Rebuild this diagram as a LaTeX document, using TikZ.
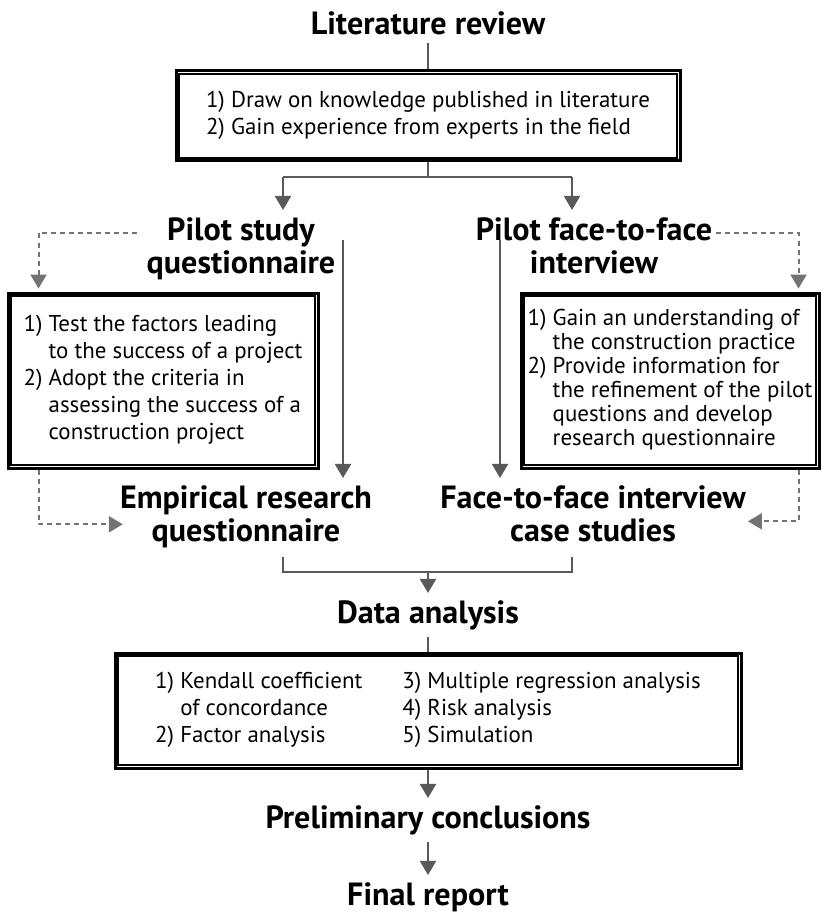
\documentclass[tikz,border=0pt]{standalone}
\usepackage{fontspec}
\setmainfont{PT Sans}
\usetikzlibrary{arrows.meta, positioning}

% font sizes fitted to the widths of the original lettering
\newlength\probewd
\settowidth\probewd{\normalfont\fontsize{20}{24}\selectfont 1) Draw on knowledge published in literature}
\pgfmathsetmacro\bodysize{20*444/\probewd}
\settowidth\probewd{\normalfont\bfseries\fontsize{20}{24}\selectfont Preliminary conclusions}
\pgfmathsetmacro\headsize{20*325/\probewd}

\tikzset{
  heading/.style={font=\bfseries\fontsize{\headsize}{33}\selectfont, align=center, inner sep=7pt},
  listbox/.style={draw, line width=3pt, inner sep=0pt, font=\fontsize{\bodysize}{27}\selectfont},
  flow/.style={draw=black!65, line width=2pt},
  arrow/.style={flow, -{Triangle[width=16pt,length=14pt]}},
  feedback/.style={draw=black!55, line width=2pt, dash pattern=on 5pt off 4pt,
    -{Triangle[width=16pt,length=14pt]}, shorten >=3pt},
}

\begin{document}
\begin{tikzpicture}[x=1pt, y=1pt]
  \useasboundingbox (0,0) rectangle (822,-917);

  % headings (base = last line)
  \node[heading, anchor=base] (lit) at (428,-35) {Literature review};
  \node[heading, anchor=base] (pilotq) at (241,-273) {Pilot study\\questionnaire};
  \node[heading, anchor=base] (pilotf) at (594,-273) {Pilot face-to-face\\interview};
  \node[heading, anchor=base] (empq) at (246,-541) {Empirical research\\questionnaire};
  \node[heading, anchor=base] (facecs) at (593,-541) {Face-to-face interview\\case studies};
  \node[heading, anchor=base] (data) at (428,-623) {Data analysis};
  \node[heading, anchor=base] (prelim) at (428,-828) {Preliminary conclusions};
  \node[heading, anchor=base] (final) at (428,-905) {Final report};

  % boxes
  \node[listbox, minimum width=504pt, minimum height=90pt] (review) at (428,-116)
    {\begin{tabular}{@{}l@{\ }l@{}}
      1) & Draw on knowledge published in literature\\
      2) & Gain experience from experts in the field
    \end{tabular}};
  \node[listbox, minimum width=310pt, minimum height=175pt] (pilotbox) at (163,-380.5)
    {\begin{tabular}{@{}l@{\ }l@{}}
      1) & Test the factors leading\\
         & to the success of a project\\
      2) & Adopt the criteria in\\
         & assessing the success of a\\
         & construction project
    \end{tabular}};
  \node[listbox, minimum width=298pt, minimum height=175pt,
        font=\fontsize{\bodysize}{24}\selectfont] (interbox) at (670,-380.5)
    {\begin{tabular}{@{}l@{\ }l@{}}
      1) & Gain an understanding of\\
         & the construction practice\\
      2) & Provide information for\\
         & the refinement of the pilot\\
         & questions and develop\\
         & research questionnaire
    \end{tabular}};
  \node[listbox, minimum width=626pt, minimum height=115pt] (methods) at (428,-710.5)
    {\begin{tabular}{@{}l@{\ }l@{\hspace{40pt}}l@{\ }l@{}}
      1) & Kendall coefficient & 3) & Multiple regression analysis\\
         & of concordance      & 4) & Risk analysis\\
      2) & Factor analysis     & 5) & Simulation
    \end{tabular}};

  % thin inner frame of each box
  \foreach \b in {review, pilotbox, interbox, methods}
    \draw[line width=1.4pt] ([shift={(4.5pt,-4.5pt)}]\b.north west)
      rectangle ([shift={(-4.5pt,4.5pt)}]\b.south east);

  % branch points
  \coordinate (split) at (428,-177);
  \coordinate (split-l) at (283,-177);
  \coordinate (split-r) at (572,-177);
  \coordinate (down-l) at (343,-240);
  \coordinate (down-r) at (500,-240);
  \coordinate (fb-lt) at (137,-233);
  \coordinate (fb-rt) at (716,-233);
  \coordinate (join-l) at (283,-557);
  \coordinate (join-r) at (572,-557);
  \coordinate (join) at (428,-572);

  % main flow
  \draw[flow] (lit) -- (review);
  \draw[flow] (review) -- (split);
  \draw[flow] (split-l) -- (split-r);
  \draw[arrow] (split-l) -- (split-l |- pilotq.north);
  \draw[arrow] (split-r) -- (split-r |- pilotf.north);
  \draw[arrow] (down-l) -- (down-l |- empq.north);
  \draw[arrow] (down-r) -- (down-r |- facecs.north);
  \draw[flow] (join-l) |- (join) -| (join-r);
  \draw[arrow] (join) -- (data);
  \draw[flow] (data) -- (methods);
  \draw[arrow] (methods) -- (prelim);
  \draw[arrow] (prelim) -- (final);

  % dashed feedback
  \draw[feedback] (fb-lt) -| ([xshift=32pt]pilotbox.north west);
  \draw[feedback] (fb-rt) -| ([xshift=-22pt]interbox.north east);
  \draw[feedback] ([xshift=32pt]pilotbox.south west) |- ([shift={(13pt,-8pt)}]empq.west);
  \draw[feedback] ([xshift=-22pt]interbox.south east) |- ([shift={(-8pt,-8pt)}]facecs.east);
\end{tikzpicture}
\end{document}
